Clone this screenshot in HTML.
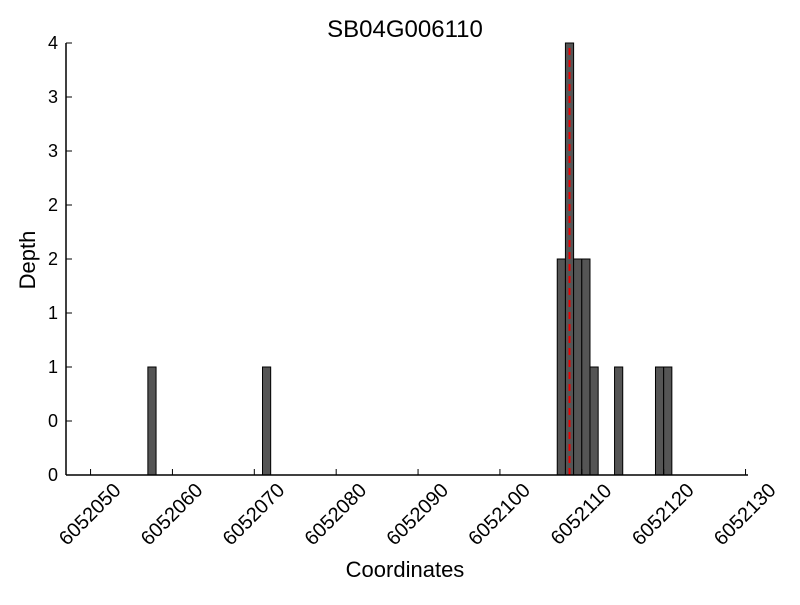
<!DOCTYPE html>
<html><head><meta charset="utf-8"><style>
body{margin:0;background:#fff;font-family:"Liberation Sans",sans-serif}
</style></head><body>
<svg id="c" width="800" height="600" xmlns="http://www.w3.org/2000/svg"></svg>
<script>
const positions=[6052057,6052071,6052107,6052108,6052109,6052110,6052111,6052114,6052119,6052120];
const depths=[1,1,2,4,2,2,1,1,1,1];
const markerPos=[6052108.5];
const xTicks=[6052050,6052060,6052070,6052080,6052090,6052100,6052110,6052120,6052130];
const yTicks=[0,0.5,1,1.5,2,2.5,3,3.5,4];
const yTickLabels=["0","0","1","1","2","2","3","3","4"];
const X0=66,X1=748,Y0=475,Y1=43,xmin=6052047,xmax=6052130.3,ymax=4;
const sx=v=>X0+(v-xmin)/(xmax-xmin)*(X1-X0);
const sy=v=>Y0-v/ymax*(Y0-Y1);
const svg=document.getElementById('c');const NS="http://www.w3.org/2000/svg";
function mk(t,a,txt){const e=document.createElementNS(NS,t);for(const k in a)e.setAttribute(k,a[k]);if(txt!=null)e.textContent=txt;svg.appendChild(e);return e;}
positions.forEach((p,i)=>{
 const r=mk('rect',{x:sx(p),y:sy(depths[i]),width:sx(p+1)-sx(p),height:sy(0)-sy(depths[i]),fill:'#555',stroke:'#000','stroke-width':1});
 
 
});
markerPos.forEach(m=>{
 const l=mk('line',{x1:sx(m),x2:sx(m),y1:sy(0),y2:sy(ymax)+4,stroke:'#e00','stroke-width':2,'stroke-dasharray':'7,5'});
 
 
});
let a=mk('line',{x1:X0,x2:X1,y1:Y0,y2:Y0,stroke:'#000','stroke-width':1.5});


a=mk('line',{x1:X0,x2:X0,y1:Y0,y2:Y1,stroke:'#000','stroke-width':1.5});


xTicks.forEach(t=>{
 const x=sx(t);
 mk('line',{x1:x,x2:x,y1:Y0,y2:Y0-6,stroke:'#000'});
 const cx=x-1,cy=Y0+39;
 const tx=mk('text',{x:cx,y:cy+7,'font-size':20,'text-anchor':'middle',transform:`rotate(-45 ${cx} ${cy})`},String(t));
 
 
});
yTicks.forEach((t,i)=>{
 const y=sy(t);
 mk('line',{x1:X0,x2:X0+6,y1:y,y2:y,stroke:'#000'});
 const tx=mk('text',{x:X0-8,y:y+6,'font-size':18,'text-anchor':'end'},yTickLabels[i]);
 
 
});
let t=mk('text',{x:405,y:37,'font-size':24,'text-anchor':'middle'},'SB04G006110');


t=mk('text',{x:405,y:577,'font-size':22,'text-anchor':'middle'},'Coordinates');


t=mk('text',{x:35,y:260,'font-size':22,'text-anchor':'middle',transform:'rotate(-90 35 260)'},'Depth');


</script>
</body></html>
